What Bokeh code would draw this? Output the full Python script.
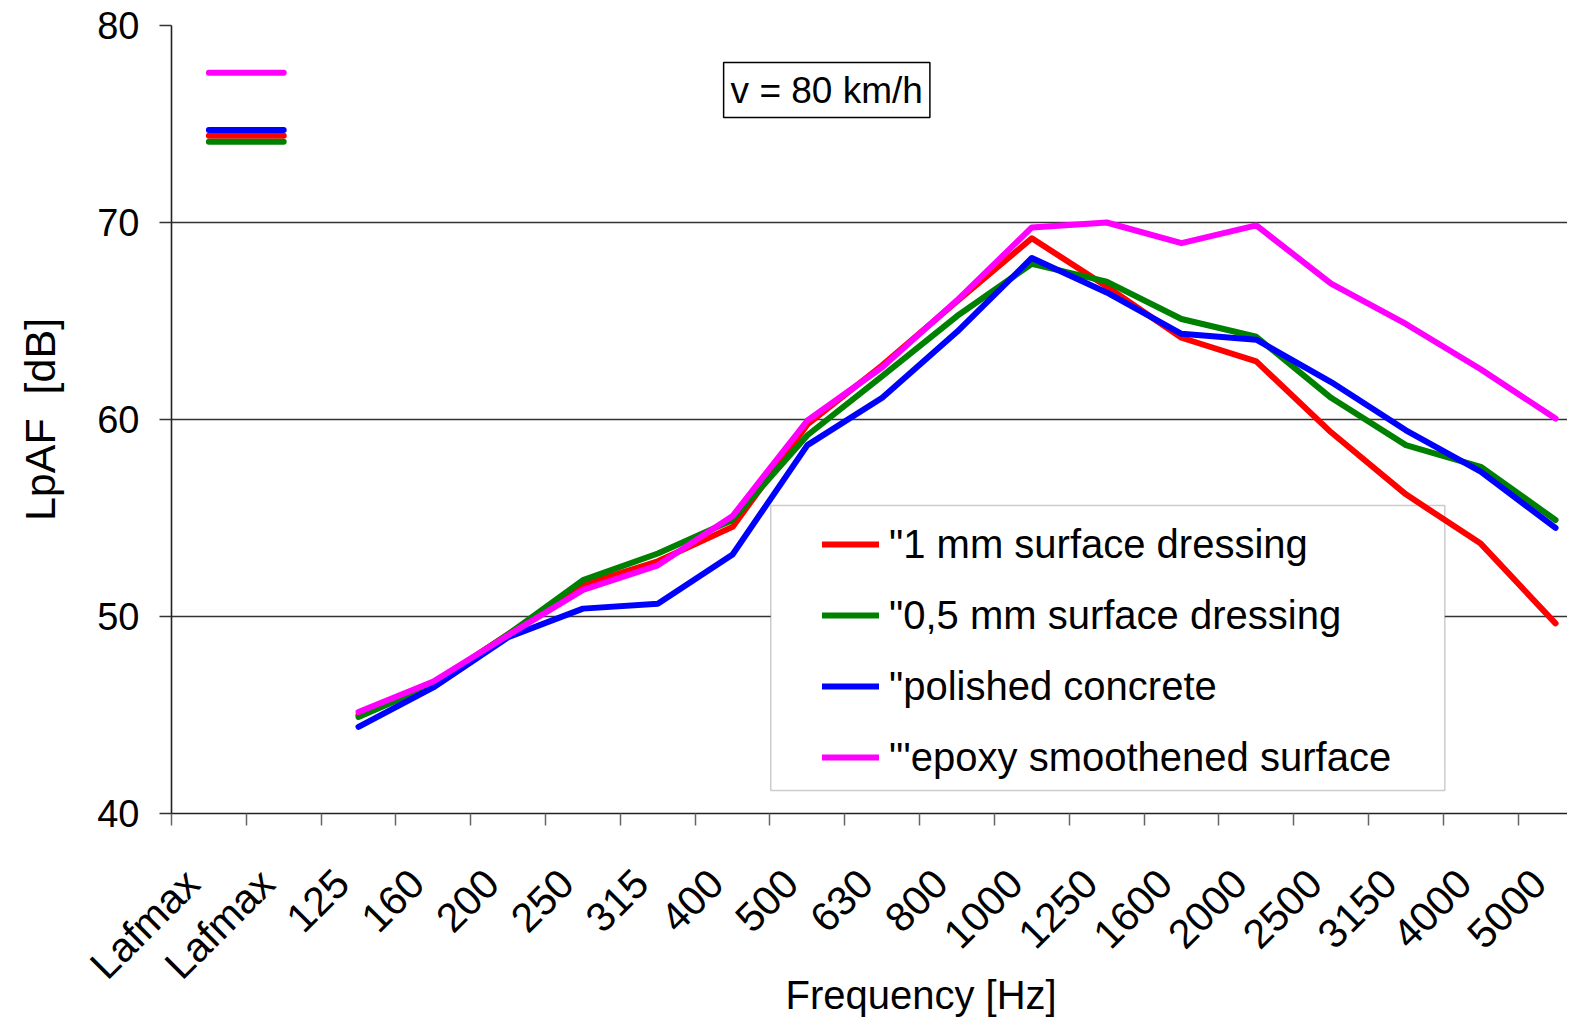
import math
from bokeh.plotting import figure
from bokeh.models import Range1d, FixedTicker, Legend, LegendItem, Label, BoxAnnotation, Title
from bokeh.embed import file_html
from bokeh.resources import INLINE

# ---- data -------------------------------------------------------------
categories = ["Lafmax", "Lafmax", "125", "160", "200", "250", "315", "400",
              "500", "630", "800", "1000", "1250", "1600", "2000", "2500",
              "3150", "4000", "5000"]

series_names = ["\"1 mm surface dressing", "\"0,5 mm surface dressing",
                "\"polished concrete", "\"'epoxy smoothened surface"]
series_colors = ["#FF0000", "#008000", "#0000FF", "#FF00FF"]

# overall LAFmax levels (drawn over the two "Lafmax" categories)
lafmax_red = 74.4
lafmax_green = 74.1
lafmax_blue = 74.7
lafmax_magenta = 77.6

# third-octave spectra 125 Hz ... 5000 Hz
spec_red = [45.0, 46.6, 49.1, 51.6, 52.8, 54.55, 59.75, 62.75, 66.0, 69.2,
            66.75, 64.15, 62.95, 59.35, 56.2, 53.7, 49.65]
spec_green = [44.9, 46.55, 49.1, 51.85, 53.2, 54.9, 59.2, 62.2, 65.25, 67.9,
              67.0, 65.1, 64.2, 61.1, 58.7, 57.6, 54.9]
spec_blue = [44.4, 46.4, 48.95, 50.4, 50.65, 53.15, 58.7, 61.1, 64.45, 68.2,
             66.45, 64.35, 64.05, 61.9, 59.45, 57.35, 54.5]
spec_magenta = [45.15, 46.7, 49.05, 51.35, 52.6, 55.1, 59.95, 62.65, 66.05, 69.75,
                70.0, 68.95, 69.85, 66.9, 64.85, 62.55, 60.05]

y_ticks = [40, 50, 60, 70, 80]

# ---- figure -------------------------------------------------------------
FONT = "Liberation Sans"
xs = [i + 0.5 for i in range(len(categories))]
label_pos = [x - 0.22 for x in xs]

p = figure(width=1567, height=1018, output_backend="svg", toolbar_location=None,
           x_range=Range1d(0, 18.66), y_range=Range1d(40, 80))
p.min_border_left = 171
p.min_border_top = 25
p.min_border_bottom = 205
p.min_border_right = 0
p.outline_line_color = None
p.background_fill_color = "white"
p.border_fill_color = "white"

# grid
p.xgrid.visible = False
p.ygrid.ticker = FixedTicker(ticks=y_ticks)
p.ygrid.grid_line_color = "#333333"
p.ygrid.grid_line_width = 1.3

# y axis
p.yaxis.ticker = FixedTicker(ticks=y_ticks)
p.yaxis.axis_line_color = "#222222"
p.yaxis.axis_line_width = 1.6
p.yaxis.major_tick_out = 12
p.yaxis.major_tick_in = 0
p.yaxis.major_tick_line_color = "#333333"
p.yaxis.major_tick_line_width = 1.5
p.yaxis.minor_tick_line_color = None
p.yaxis.major_label_text_font = FONT
p.yaxis.major_label_text_font_size = "38px"
p.yaxis.major_label_text_color = "black"
p.yaxis.major_label_standoff = 20
p.yaxis.axis_label = "LpAF\u00a0 [dB]"
p.yaxis.axis_label_text_font = FONT
p.yaxis.axis_label_text_font_size = "43px"
p.yaxis.axis_label_text_font_style = "normal"
p.yaxis.axis_label_text_color = "black"
p.yaxis.axis_label_standoff = 30

# x axis: labels near category centres, tick marks at category boundaries
p.xaxis.ticker = FixedTicker(ticks=label_pos, minor_ticks=list(range(0, len(categories))))
p.xaxis.major_label_overrides = {x: c for x, c in zip(label_pos, categories)}
p.xaxis.major_label_orientation = math.pi / 4
p.xaxis.major_tick_out = 0
p.xaxis.major_tick_in = 0
p.xaxis.minor_tick_out = 12
p.xaxis.minor_tick_in = 0
p.xaxis.minor_tick_line_color = "#666666"
p.xaxis.minor_tick_line_width = 1.5
p.xaxis.axis_line_color = "#222222"
p.xaxis.axis_line_width = 1.6
p.xaxis.major_label_text_font = FONT
p.xaxis.major_label_text_font_size = "41px"
p.xaxis.major_label_text_color = "black"
p.xaxis.major_label_standoff = 51

# x axis title, placed off-centre as in the original
xtitle = Title(text="Frequency [Hz]", align="left", offset=614, standoff=-70,
               vertical_align="top",
               text_font=FONT, text_font_size="40px", text_font_style="normal",
               text_color="black")
p.add_layout(xtitle, "below")

# legend frame (white box beneath the curves)
box = BoxAnnotation(left=8.01, right=17.02, bottom=41.17, top=55.63,
                    fill_color="white", fill_alpha=1.0,
                    line_color="#555555", line_width=1.5, level="underlay")
p.add_layout(box)

# ---- lines ----------------------------------------------------------------
lafmax_vals = [lafmax_red, lafmax_green, lafmax_blue, lafmax_magenta]
spectra = [spec_red, spec_green, spec_blue, spec_magenta]
items = []
for name, color, lv, spec in zip(series_names, series_colors, lafmax_vals, spectra):
    p.line(xs[:2], [lv, lv], line_color=color, line_width=6, line_cap="round")
    r = p.line(xs[2:], spec, line_color=color, line_width=6,
               line_cap="round", line_join="round")
    items.append(LegendItem(label=name, renderers=[r]))

legend = Legend(items=items, location=(651, 33), padding=0, margin=0,
                spacing=25, glyph_width=57, glyph_height=46, label_height=46,
                label_standoff=10, border_line_alpha=0, background_fill_alpha=0,
                label_text_font=FONT, label_text_font_size="40px",
                label_text_color="black")
p.add_layout(legend)

# ---- text annotation -------------------------------------------------------
speed = Label(x=7.38, y=78.12, text="v = 80 km/h", text_align="left",
              text_baseline="top", text_font=FONT, text_font_size="37px",
              text_color="black", border_line_color="black", border_line_width=1.5,
              background_fill_color="white", padding=7)
p.add_layout(speed)

open("out.html", "w").write(file_html(p, INLINE))
